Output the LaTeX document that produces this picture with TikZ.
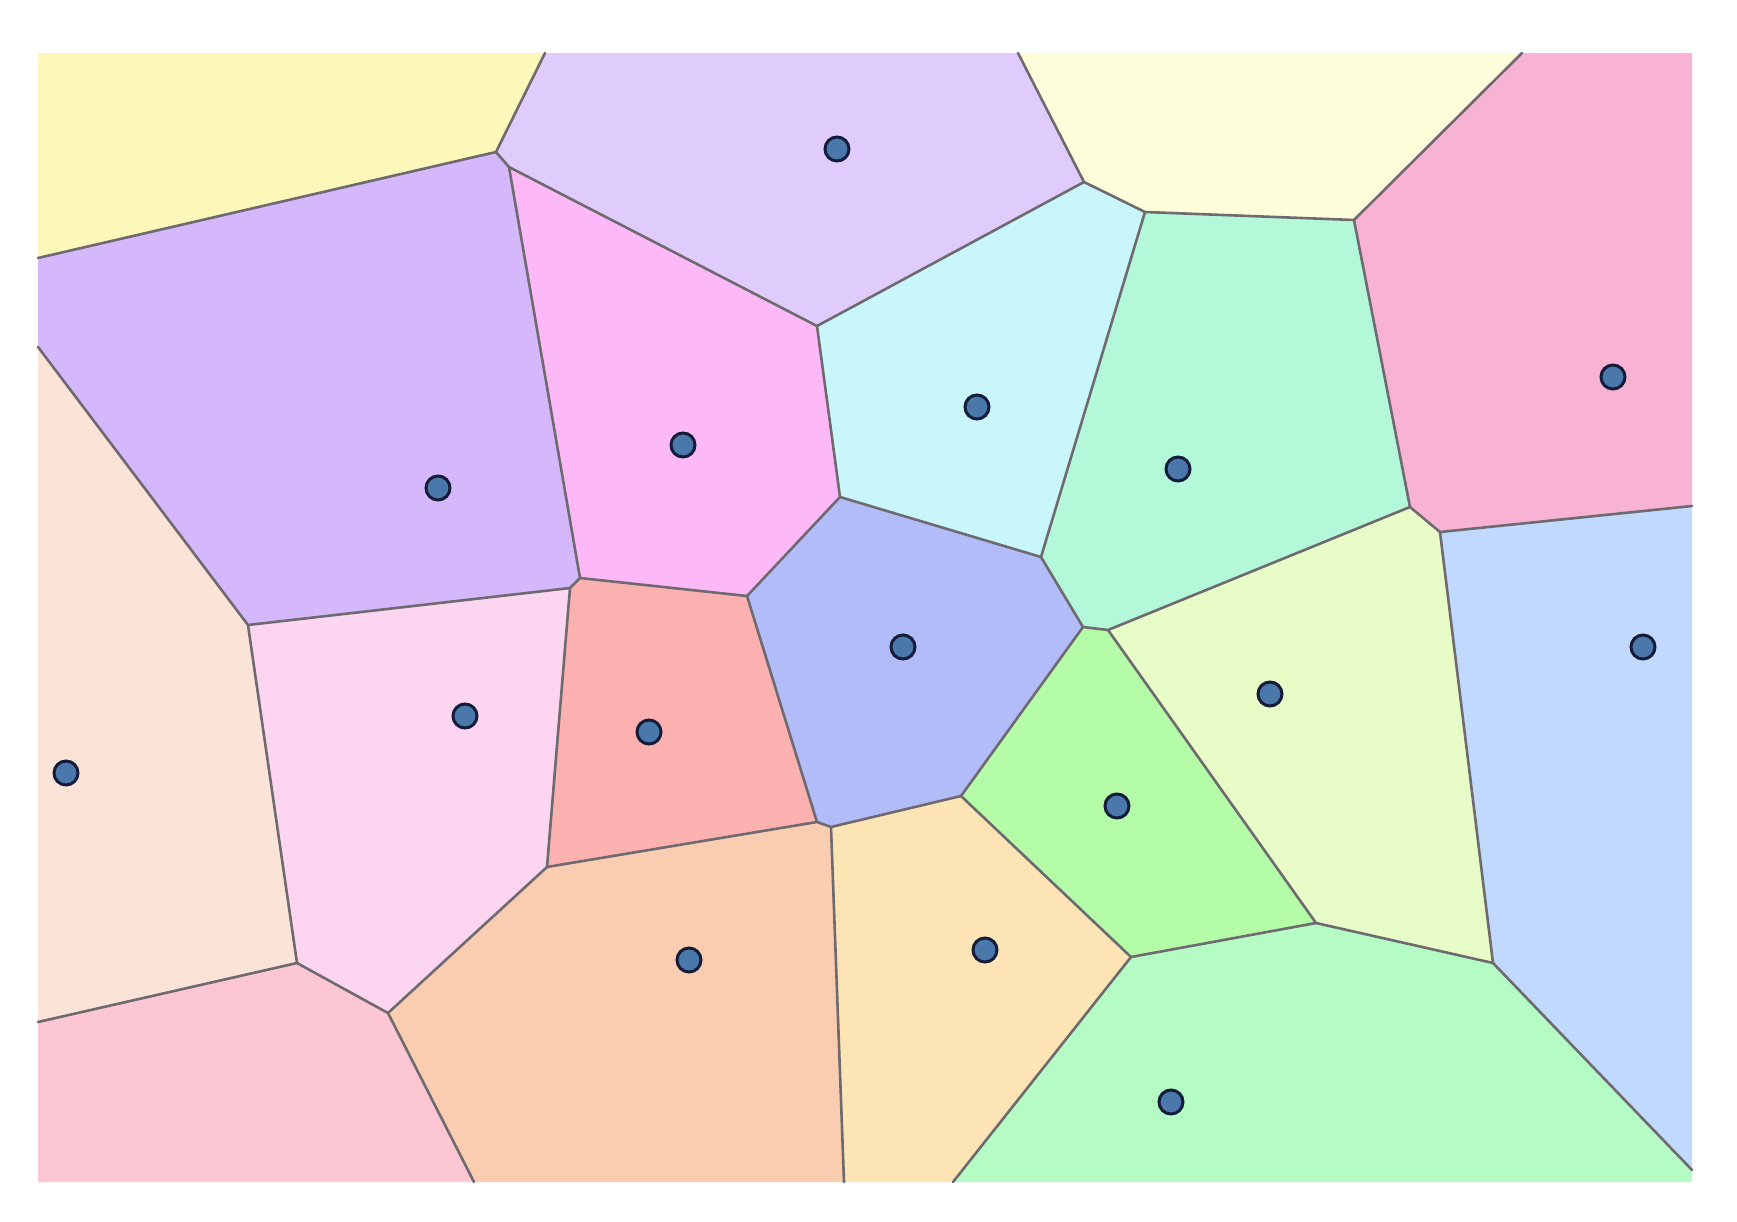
\documentclass[tikz,border=0pt]{standalone}
\begin{document}
\begin{tikzpicture}[x=0.5pt,y=-0.5pt,
  edge/.style={draw=edgegray,line width=1.3pt,line join=round,line cap=round},
  site/.style={circle,fill=sitefill,draw=siteline,line width=1.5pt,minimum size=12pt,inner sep=0pt}]
\definecolor{edgegray}{HTML}{6E6A70}
\definecolor{sitefill}{HTML}{4A78AA}
\definecolor{siteline}{HTML}{141C3A}
\definecolor{cYellow}{HTML}{FDF7BA}
\definecolor{cLilac}{HTML}{DFCCFC}
\definecolor{cLightYellow}{HTML}{FDFDDA}
\definecolor{cPinkTwo}{HTML}{F8B2D4}
\definecolor{cPurple}{HTML}{D4B8FB}
\definecolor{cMagenta}{HTML}{FDB8F8}
\definecolor{cCyan}{HTML}{C8F6FA}
\definecolor{cMint}{HTML}{B4F8DA}
\definecolor{cPeach}{HTML}{FCE3D7}
\definecolor{cLightPink}{HTML}{FCD6F0}
\definecolor{cRed}{HTML}{FCB1B1}
\definecolor{cBlue}{HTML}{B1BCF8}
\definecolor{cYellowGreen}{HTML}{E8FCC8}
\definecolor{cBlueTwo}{HTML}{C0D9FC}
\definecolor{cGreen}{HTML}{B4FCA8}
\definecolor{cRose}{HTML}{FCC6D2}
\definecolor{cSalmon}{HTML}{FACCB0}
\definecolor{cOrange}{HTML}{FDE4B4}
\definecolor{cMintTwo}{HTML}{B4FCC4}

\fill[white] (0,0) rectangle (1737,1222);
\useasboundingbox (0,0) rectangle (1737,1222);

% frame corners and border points
\coordinate (TL) at (38,53);
\coordinate (TR) at (1692,53);
\coordinate (BL) at (38,1182);
\coordinate (BR) at (1692,1182);
\coordinate (T1) at (545,53);
\coordinate (T2) at (1018,53);
\coordinate (T3) at (1522,53);
\coordinate (L1) at (38,258);
\coordinate (L2) at (38,347);
\coordinate (L3) at (38,1022);
\coordinate (R1) at (1692,506);
\coordinate (R2) at (1692,1170);
\coordinate (B1) at (474,1182);
\coordinate (B2) at (844,1182);
\coordinate (B3) at (953,1182);
% interior vertices
\coordinate (V1) at (496,152);
\coordinate (V2) at (509,167);
\coordinate (V3) at (248,625);
\coordinate (V4a) at (580,578);
\coordinate (V4b) at (570,588);
\coordinate (V5) at (297,963);
\coordinate (V6) at (388,1013);
\coordinate (V7) at (547,867);
\coordinate (V8) at (840,497);
\coordinate (V9) at (747,596);
\coordinate (V10) at (1041,557);
\coordinate (V11) at (1083,627);
\coordinate (V12) at (1108,630);
\coordinate (V13) at (961,796);
\coordinate (V14) at (817,822);
\coordinate (V15) at (831,827);
\coordinate (V16) at (1131,957);
\coordinate (V17) at (1316,923);
\coordinate (V18) at (1493,963);
\coordinate (V19) at (1410,507);
\coordinate (V20) at (1440,532);
\coordinate (V21) at (1354,220);
\coordinate (V22) at (1084,182);
\coordinate (V23) at (1145,212);
\coordinate (V24) at (817,326);

% cells
\fill[cYellow] (TL) -- (T1) -- (V1) -- (L1) -- cycle;
\fill[cLilac] (T1) -- (T2) -- (V22) -- (V24) -- (V2) -- (V1) -- cycle;
\fill[cLightYellow] (T2) -- (T3) -- (V21) -- (V23) -- (V22) -- cycle;
\fill[cPinkTwo] (T3) -- (TR) -- (R1) -- (V20) -- (V19) -- (V21) -- cycle;
\fill[cPurple] (L1) -- (V1) -- (V2) -- (V4a) -- (V4b) -- (V3) -- (L2) -- cycle;
\fill[cMagenta] (V2) -- (V24) -- (V8) -- (V9) -- (V4a) -- cycle;
\fill[cCyan] (V22) -- (V23) -- (V10) -- (V8) -- (V24) -- cycle;
\fill[cMint] (V23) -- (V21) -- (V19) -- (V12) -- (V11) -- (V10) -- cycle;
\fill[cPeach] (L2) -- (V3) -- (V5) -- (L3) -- cycle;
\fill[cLightPink] (V3) -- (V4b) -- (V7) -- (V6) -- (V5) -- cycle;
\fill[cRed] (V4a) -- (V9) -- (V14) -- (V7) -- (V4b) -- cycle;
\fill[cBlue] (V8) -- (V10) -- (V11) -- (V13) -- (V15) -- (V14) -- (V9) -- cycle;
\fill[cYellowGreen] (V19) -- (V20) -- (V18) -- (V17) -- (V12) -- cycle;
\fill[cBlueTwo] (R1) -- (R2) -- (V18) -- (V20) -- cycle;
\fill[cGreen] (V11) -- (V12) -- (V17) -- (V16) -- (V13) -- cycle;
\fill[cRose] (L3) -- (V5) -- (V6) -- (B1) -- (BL) -- cycle;
\fill[cSalmon] (V7) -- (V14) -- (V15) -- (B2) -- (B1) -- (V6) -- cycle;
\fill[cOrange] (V15) -- (V13) -- (V16) -- (B3) -- (B2) -- cycle;
\fill[cMintTwo] (V16) -- (V17) -- (V18) -- (R2) -- (BR) -- (B3) -- cycle;

% edges
\draw[edge] (T1) -- (V1) -- (L1);
\draw[edge] (V1) -- (V2) -- (V24) -- (V22) -- (T2);
\draw[edge] (V2) -- (V4a) -- (V4b) -- (V3) -- (L2);
\draw[edge] (V3) -- (V5) -- (L3);
\draw[edge] (V5) -- (V6) -- (B1);
\draw[edge] (V6) -- (V7) -- (V4b);
\draw[edge] (V7) -- (V14) -- (V15) -- (B2);
\draw[edge] (V4a) -- (V9) -- (V14);
\draw[edge] (V15) -- (V13);
\draw[edge] (V9) -- (V8) -- (V24);
\draw[edge] (V22) -- (V23) -- (V21) -- (T3);
\draw[edge] (V23) -- (V10) -- (V8);
\draw[edge] (V10) -- (V11) -- (V12) -- (V19) -- (V21);
\draw[edge] (V11) -- (V13) -- (V16) -- (B3);
\draw[edge] (V19) -- (V20) -- (R1);
\draw[edge] (V20) -- (V18) -- (R2);
\draw[edge] (V18) -- (V17) -- (V12);
\draw[edge] (V17) -- (V16);

% sites
\node[site] (s1) at (837,149) {};
\node[site] (s2) at (977,407) {};
\node[site] (s3) at (1613,377) {};
\node[site] (s4) at (438,488) {};
\node[site] (s5) at (465,716) {};
\node[site] (s6) at (66,773) {};
\node[site] (s7) at (683,445) {};
\node[site] (s8) at (1178,469) {};
\node[site] (s9) at (903,647) {};
\node[site] (s10) at (649,732) {};
\node[site] (s11) at (1117,806) {};
\node[site] (s12) at (1270,694) {};
\node[site] (s13) at (1643,647) {};
\node[site] (s14) at (689,960) {};
\node[site] (s15) at (985,950) {};
\node[site] (s16) at (1171,1102) {};
\end{tikzpicture}
\end{document}
